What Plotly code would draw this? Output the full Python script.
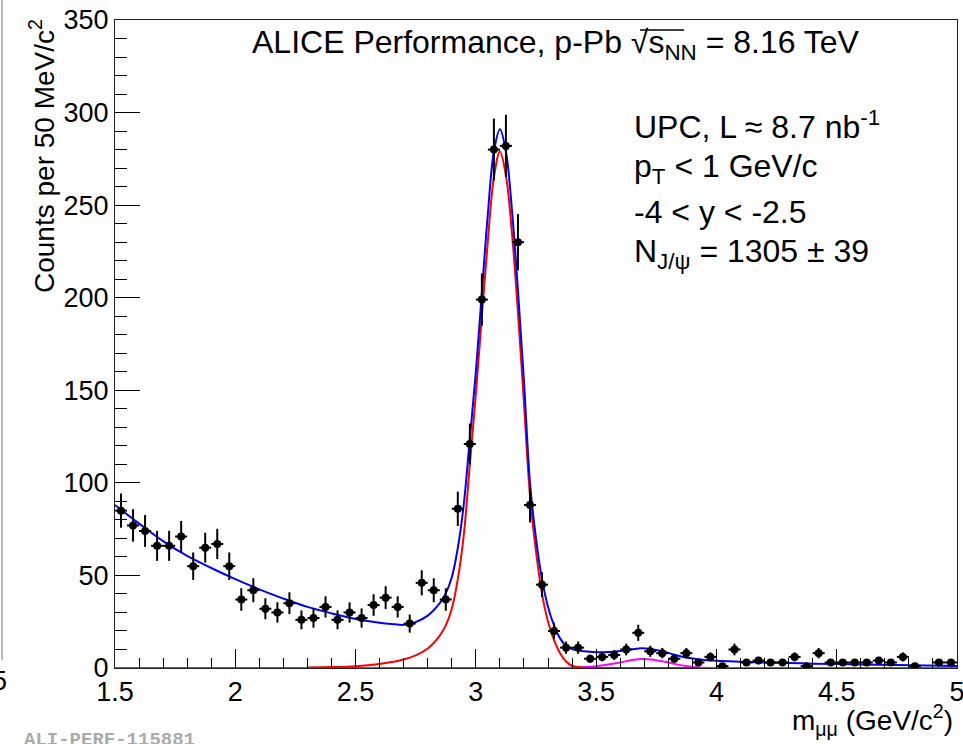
import numpy as np
import plotly.graph_objects as go

# ---------------- data ----------------
bin_centers = [1.525, 1.575, 1.625, 1.675, 1.725, 1.775, 1.825, 1.875, 1.925, 1.975,
               2.025, 2.075, 2.125, 2.175, 2.225, 2.275, 2.325, 2.375, 2.425, 2.475,
               2.525, 2.575, 2.625, 2.675, 2.725, 2.775, 2.825, 2.875, 2.925, 2.975,
               3.025, 3.075, 3.125, 3.175, 3.225, 3.275, 3.325, 3.375, 3.425, 3.475,
               3.525, 3.575, 3.625, 3.675, 3.725, 3.775, 3.825, 3.875, 3.925, 3.975,
               4.025, 4.075, 4.125, 4.175, 4.225, 4.275, 4.325, 4.375, 4.425, 4.475,
               4.525, 4.575, 4.625, 4.675, 4.725, 4.775, 4.825, 4.875, 4.925, 4.975]
counts = [85, 77, 74, 66, 66, 71, 55, 65, 67, 55,
          37, 42, 32, 30, 35, 26, 27, 33, 26, 30,
          27, 34, 38, 33, 24, 46, 42, 37, 86, 121,
          199, 280, 282, 230, 88, 45, 20, 11, 11, 5,
          6, 7, 10, 19, 9, 8, 5, 8, 3, 6,
          1, 10, 3, 4, 3, 3, 6, 1, 8, 3,
          3, 3, 3, 4, 3, 6, 1, 0, 3, 3]

# total fit (blue)
total_x = [1.50, 1.60, 1.70, 1.80, 1.90, 2.00, 2.10, 2.20, 2.30, 2.40, 2.50, 2.60, 2.65,
           2.70, 2.75, 2.80, 2.85, 2.875, 2.90, 2.925, 2.95, 2.975, 3.00, 3.025, 3.05,
           3.075, 3.10, 3.125, 3.15, 3.175, 3.20, 3.225, 3.25, 3.275, 3.30, 3.325, 3.35,
           3.375, 3.40, 3.45, 3.50, 3.55, 3.60, 3.65, 3.69, 3.73, 3.78, 3.83, 3.88, 3.93,
           4.00, 4.10, 4.20, 4.35, 4.50, 4.75, 5.00]
total_y = [88, 78, 68.5, 60.5, 54, 48, 42.5, 37.5, 33, 29.5, 26.5, 24.5, 23.8,
           23.3, 24.8, 28.3, 35, 40.3, 49, 64.8, 88.6, 124, 160, 203, 245.5,
           279, 291, 279, 247.5, 204, 155, 100, 70, 48, 33, 23, 16,
           12, 10.2, 9.0, 8.5, 8.6, 9.2, 10.1, 10.6, 10.2, 8.9, 7.0, 5.5, 4.6,
           3.9, 3.4, 3.0, 2.5, 2.1, 1.6, 1.1]

# J/psi signal (red)
jpsi_x = [2.30, 2.40, 2.50, 2.60, 2.65, 2.70, 2.75, 2.80, 2.85, 2.875, 2.90, 2.925,
          2.95, 2.975, 3.00, 3.025, 3.05, 3.075, 3.10, 3.125, 3.15, 3.175, 3.20,
          3.225, 3.25, 3.275, 3.30, 3.325, 3.35, 3.375, 3.40, 3.45, 3.50, 3.93]
jpsi_y = [0.3, 0.5, 1.0, 2.2, 3.2, 4.6, 6.8, 10.5, 17.5, 23, 32, 48,
          72, 110, 148, 190, 231, 265, 279, 266, 235, 192, 143,
          93, 63, 40, 25, 15, 8, 3.5, 1.2, 0.2, 0.05, 0]

# psi(2S) signal (magenta)
psi2s_x = [1.50, 3.35, 3.40, 3.45, 3.50, 3.55, 3.60, 3.65, 3.69, 3.73, 3.78, 3.83,
           3.88, 3.93, 3.98, 4.05, 5.00]
psi2s_y = [0, 0, 0.1, 0.4, 1.0, 1.9, 3.0, 4.3, 4.9, 4.6, 3.5, 2.1,
           1.0, 0.3, 0.05, 0, 0]

x_ticks = [1.5, 2, 2.5, 3, 3.5, 4, 4.5, 5]
y_ticks = [0, 50, 100, 150, 200, 250, 300, 350]

# ---------------- figure ----------------
W, H = 963, 744
L, R, T, B = 115, 6, 20, 76
PW, PH = W - L - R, H - T - B
FONT = "Liberation Sans, Arial, Helvetica, sans-serif"


def px(x):
    return (x - L) / PW


def py(y):
    return (H - B - y) / PH


xs = np.array(bin_centers)
ys = np.array(counts, dtype=float)
mask = ys > 0
errs = np.sqrt(ys)

fig = go.Figure()

fig.add_trace(go.Scatter(x=psi2s_x, y=psi2s_y, mode="lines", line_shape="spline",
                         line=dict(color="#ff00ff", width=2), hoverinfo="skip",
                         showlegend=False))
fig.add_trace(go.Scatter(x=jpsi_x, y=jpsi_y, mode="lines", line_shape="spline",
                         line=dict(color="#ff0000", width=2), hoverinfo="skip",
                         showlegend=False))
fig.add_trace(go.Scatter(x=total_x, y=total_y, mode="lines", line_shape="spline",
                         line=dict(color="#0000ff", width=2), hoverinfo="skip",
                         showlegend=False))
fig.add_trace(go.Scatter(
    x=xs[mask], y=ys[mask], mode="markers",
    marker=dict(color="black", size=8, symbol="circle"),
    error_y=dict(type="data", array=errs[mask], color="black", thickness=2, width=0),
    error_x=dict(type="constant", value=0.025, color="black", thickness=2, width=0),
    showlegend=False))

axis_common = dict(showline=True, mirror=True, linecolor="#222222", linewidth=1,
                   ticks="inside", tickcolor="black", tickwidth=1, showgrid=False,
                   zeroline=False, ticklabeloverflow="allow", automargin=False,
                   tickfont=dict(family=FONT, size=27, color="black"))

fig.update_xaxes(range=[1.5, 5], tickvals=x_ticks,
                 ticktext=[("%g" % v) for v in x_ticks], ticklen=19,
                 minor=dict(dtick=0.1, tick0=1.5, ticklen=10, ticks="inside",
                            tickcolor="black", tickwidth=1, showgrid=False),
                 **axis_common)
fig.update_yaxes(range=[0, 350], tickvals=y_ticks,
                 ticktext=[str(v) for v in y_ticks], ticklen=25,
                 minor=dict(dtick=10, tick0=0, ticklen=12, ticks="inside",
                            tickcolor="black", tickwidth=1, showgrid=False),
                 **axis_common)

ann = []


def text(x, y, s, size=31, xanchor="left", yanchor="middle", color="black",
         family=FONT, angle=0):
    ann.append(dict(x=px(x), y=py(y), xref="paper", yref="paper", text=s,
                    showarrow=False, xanchor=xanchor, yanchor=yanchor,
                    font=dict(family=family, size=size, color=color),
                    textangle=angle))


text(250, 45, "ALICE Performance, p-Pb √s<sub>NN</sub> = 8.16 TeV", size=32)
text(632, 125, "UPC, L ≈ 8.7 nb<sup>-1</sup>", size=32)
text(632, 168, "p<sub>T</sub> < 1 GeV/c", size=32)
text(632, 212, "-4 < y < -2.5", size=32)
text(632, 253, "N<sub>J/ψ</sub> = 1305 ± 39", size=32)
text(42, 156, "Counts per 50 MeV/c<sup>2</sup>", size=28, xanchor="center", angle=-90)
text(955, 720, "m<sub>μμ</sub> (GeV/c<sup>2</sup>)", size=28, xanchor="right")
text(22, 727, "<b>ALI-PERF-115881</b>", size=19, yanchor="top", color="#aaaaaa",
     family="Liberation Mono, Courier New, monospace")
text(9, 681, "5", size=27, xanchor="right")

fig.update_layout(
    width=W, height=H, margin=dict(l=L, r=R, t=T, b=B, pad=0, autoexpand=False),
    paper_bgcolor="white", plot_bgcolor="white",
    annotations=ann,
    shapes=[
        dict(type="line", xref="paper", yref="paper", x0=px(2), x1=px(2),
             y0=py(0), y1=py(660), line=dict(color="#777777", width=1)),
        # overline of the square root sign
        dict(type="line", xref="paper", yref="paper", x0=px(640), x1=px(684),
             y0=py(30), y1=py(30), line=dict(color="black", width=1.5)),
    ],
)

fig.write_html("out.html")
